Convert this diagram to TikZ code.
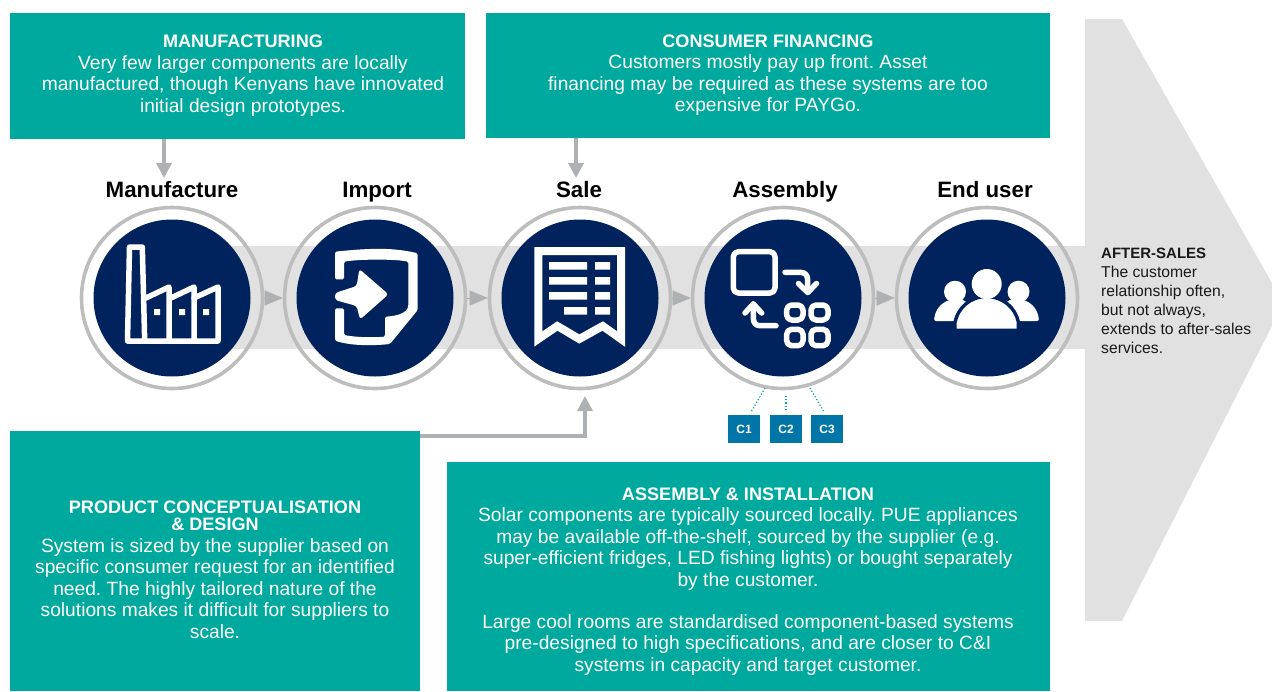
\documentclass[tikz,border=0pt]{standalone}
\usepackage{fontspec}
\setmainfont{Liberation Sans}
\usetikzlibrary{arrows.meta}
\definecolor{teal1}{HTML}{00A99D}
\definecolor{navy1}{HTML}{00235D}
\definecolor{band1}{HTML}{E1E1E1}
\definecolor{ring1}{HTML}{BDBDBD}
\definecolor{tip1}{HTML}{AEB1B3}
\definecolor{blue1}{HTML}{0076A8}
\newcommand{\ttl}[1]{\textbf{\fontsize{18.1}{21.5}\selectfont #1}}
\tikzset{
  x=1pt,y=-1pt,
  panel/.style={fill=teal1,draw=none,inner sep=0pt,anchor=north west},
  paneltext/.style={text=white,align=center,inner sep=0pt,font=\fontsize{19.2}{21.5}\selectfont\frenchspacing},
  stagehead/.style={font=\fontsize{22.3}{24}\selectfont\bfseries,text=black,inner sep=0pt,anchor=base},
  ringc/.style={circle,draw=ring1,line width=3.6pt,minimum size=181pt,inner sep=0pt},
  disc/.style={circle,fill=navy1,minimum size=157pt,inner sep=0pt},
  flow/.style={draw=tip1,line width=0.1pt,-{Triangle[length=18pt,width=15pt,fill=tip1]}},
  feed/.style={draw=tip1,line width=3.4pt,-{Triangle[length=15pt,width=15pt,fill=tip1]}},
  cbox/.style={fill=blue1,text=white,minimum width=32pt,minimum height=28pt,inner sep=0pt,font=\fontsize{12}{14}\selectfont\bfseries},
  cdot/.style={draw=teal1,line width=1.2pt,dotted},
  ico/.style={draw=white,line width=5.5pt,line cap=round,line join=round},
}
\begin{document}
\begin{tikzpicture}
\useasboundingbox (0,0) rectangle (1272,691);
% background shapes
\fill[band1] (172,246) rectangle (1090,349);
\fill[band1] (1085,19) -- (1122,19) -- (1272,283) -- (1272,326) -- (1122,621) -- (1085,621) -- cycle;
% panels
\node[panel,minimum width=455pt,minimum height=126pt] (mb) at (10,13) {};
\node[panel,minimum width=564pt,minimum height=125pt] (fb) at (486,13) {};
\node[panel,minimum width=410pt,minimum height=260pt] (pb) at (10,431) {};
\node[panel,minimum width=603pt,minimum height=229pt] (ab) at (447,462) {};
\node[paneltext] (mt) at (243,75.5) {\ttl{MANUFACTURING}\\Very few larger components are locally\\manufactured, though Kenyans have innovated\\initial design prototypes.};
\node[paneltext] (ft) at (768,75) {\ttl{CONSUMER FINANCING}\\Customers mostly pay up front. Asset\\financing may be required as these systems are too\\expensive for PAYGo.};
\node[paneltext] (pt) at (215,570) {\ttl{PRODUCT CONCEPTUALISATION}\\[-4.5pt]\ttl{\& DESIGN}\\System is sized by the supplier based on\\specific consumer request for an identified\\need. The highly tailored nature of the\\solutions makes it difficult for suppliers to\\scale.};
\node[paneltext] (at) at (748,581.5) {\ttl{ASSEMBLY \& INSTALLATION}\\Solar components are typically sourced locally. PUE appliances\\may be available off-the-shelf, sourced by the supplier (e.g.\\super-efficient fridges, LED fishing lights) or bought separately\\by the customer.\\[20.5pt]Large cool rooms are standardised component-based systems\\pre-designed to high specifications, and are closer to C\&I\\systems in capacity and target customer.};
% stage heads
\node[stagehead] (h1) at (172,197) {Manufacture};
\node[stagehead] (h2) at (377,197) {Import};
\node[stagehead] (h3) at (579,197) {Sale};
\node[stagehead] (h4) at (785,197) {Assembly};
\node[stagehead] (h5) at (985,197) {End user};
% rings
\node[ringc] (r1) at (172,298) {};
\node[ringc] (r2) at (375,298) {};
\node[ringc] (r3) at (580,298) {};
\node[ringc] (r4) at (783,298) {};
\node[ringc] (r5) at (987,298) {};
\node[disc] (d1) at (172,298) {};
\node[disc] (d2) at (375,298) {};
\node[disc] (d3) at (580,298) {};
\node[disc] (d4) at (783,298) {};
\node[disc] (d5) at (987,298) {};
% flow tips
\draw[flow] (r1.east) -- (r2.west);
\draw[flow] (r2.east) -- (r3.west);
\draw[flow] (r3.east) -- (r4.west);
\draw[flow] (r4.east) -- (r5.west);
% feeders
\coordinate (a1) at (164,178);
\coordinate (a2) at (576,178);
\coordinate (p1) at (420,436);
\coordinate (p2) at (585,396);
\draw[feed] (a1 |- mb.south) -- (a1);
\draw[feed] (a2 |- fb.south) -- (a2);
\draw[feed] (p1) -| (p2);
% factory
\begin{scope}[ico]
\draw (144.7,341) -- (142.3,247) -- (129.5,247) -- (127.5,341) -- (218,341) -- (218,287) -- (194,298);
\draw (146,298) -- (169,287) -- (169,341);
\draw (171,298) -- (194,287) -- (194,341);
\end{scope}
\fill[white] (154,309) rectangle (160,315) (179,309) rectangle (185,315) (203,309) rectangle (209,315);
% import
\fill[white,rounded corners=1.5pt] (335,279.3) -- (335,251.7) .. controls (375,247.5) and (395,248) .. (417.7,253.3) -- (417.7,310) -- (390,344) .. controls (370,346) and (350,345.5) .. (335,340.7) -- (335,308.3) -- (344,308.3) -- (344,335) .. controls (358,337.5) and (372,337.5) .. (385,336.7) -- (385,316.7) .. controls (395,316) and (408.3,314) .. (408.3,303.3) -- (408.3,261.7) .. controls (395,259) and (360,259) .. (344,261.7) -- (344,279.3) -- cycle;
\fill[white,rounded corners=3pt] (335,293) -- (356.7,286) -- (359.3,269) -- (388.5,294.3) -- (360,319.5) -- (356.7,306) -- (335,300) -- cycle;
% receipt
\draw[draw=white,line width=8pt,miter limit=10] (538.3,339) -- (538.3,251) -- (621,251) -- (621,339) -- (602.7,326) -- (579.3,339) -- (557.3,326) -- cycle;
\fill[white] (549,262) rectangle (587,269.7) (595,262) rectangle (610,269.7)
 (549,277) rectangle (587,284.7) (595,277) rectangle (610,284.7)
 (549,292) rectangle (587,299.7) (595,292) rectangle (610,299.7)
 (564,307) rectangle (587,314.7) (595,307) rectangle (610,314.7);
% assembly
\begin{scope}[ico]
\draw[rounded corners=5pt] (733.3,251.7) rectangle (775,293);
\draw[rounded corners=5pt] (786.7,305) rectangle (803,320);
\draw[rounded corners=5pt] (811,305) rectangle (828,320);
\draw[rounded corners=5pt] (786.7,329.3) rectangle (803,345.7);
\draw[rounded corners=5pt] (811,329.3) rectangle (828,345.7);
\draw (785,272.3) -- (800,272.3) .. controls (805,272.3) and (807.7,275) .. (807.7,280) -- (807.7,292);
\draw (798.5,283.5) -- (807.7,292.5) -- (816.5,283.5);
\draw (776,325.7) -- (760,325.7) .. controls (756,325.7) and (753.3,323) .. (753.3,318) -- (753.3,304);
\draw (745,313) -- (753.3,304) -- (761.7,313);
\end{scope}
% people
\fill[white] (955,291.7) circle[radius=11] (1018.5,291.7) circle[radius=11];
\fill[white,rounded corners=2pt] (934,321) .. controls (935,310) and (941,303) .. (950,300) -- (965,300) -- (975,321) -- cycle;
\fill[white,rounded corners=2pt] (1039,321) .. controls (1038,310) and (1032,303) .. (1023,300) -- (1008,300) -- (998,321) -- cycle;
\draw[fill=white,draw=navy1,line width=3.4pt] (955,330.4) -- (955,322) .. controls (958,308) and (970,296.5) .. (986.7,296.5) .. controls (1003,296.5) and (1015.5,308) .. (1018.4,322) -- (1018.4,330.4) -- cycle;
\fill[white] (986.7,284) circle[radius=15];
% C boxes
\node[cbox] (c1) at (744,429) {C1};
\node[cbox] (c2) at (786,429) {C2};
\node[cbox] (c3) at (827,429) {C3};
\coordinate (e1) at (765,388);
\coordinate (e2) at (786,396);
\coordinate (e3) at (810,388);
\coordinate (f1) at (751,412);
\coordinate (f2) at (786,411);
\coordinate (f3) at (824,412);
\draw[cdot] (e1) -- (f1);
\draw[cdot] (e2) -- (f2);
\draw[cdot] (e3) -- (f3);
% after-sales
\node[anchor=north west,align=left,inner sep=0pt,text=black!90,font=\fontsize{15.7}{19}\selectfont] (as) at (1101,247.5) {{\fontsize{15}{19}\selectfont\textbf{AFTER-SALES}}\\The customer\\relationship often,\\but not always,\\extends to after-sales\\services.};
\end{tikzpicture}
\end{document}
